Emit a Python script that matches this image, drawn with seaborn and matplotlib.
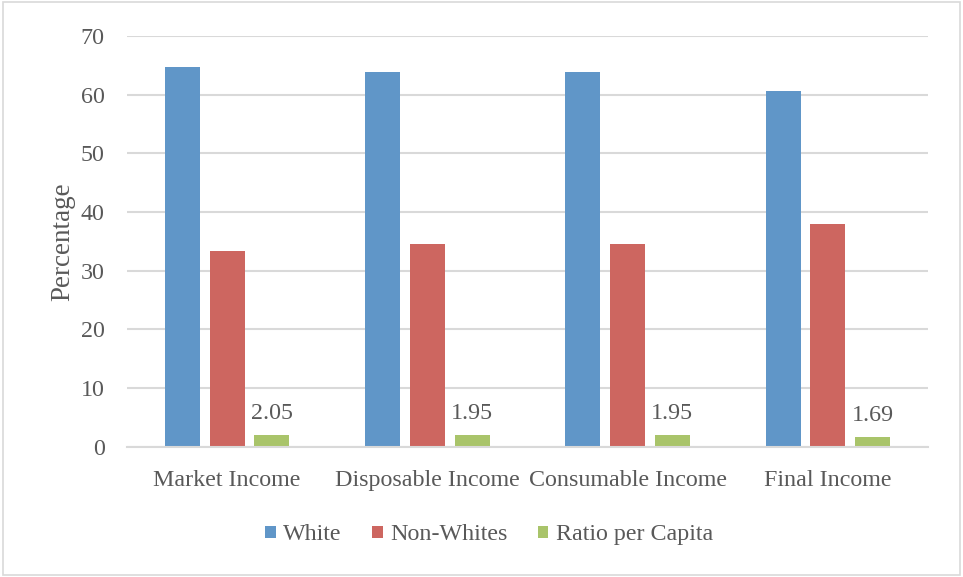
import matplotlib
matplotlib.use("Agg")
import matplotlib.pyplot as plt
import seaborn as sns
import pandas as pd
from matplotlib.patches import Rectangle

categories = ["Market Income", "Disposable Income", "Consumable Income", "Final Income"]
white = [64.8, 63.8, 63.8, 60.6]
non_whites = [33.4, 34.5, 34.5, 37.9]
ratio_per_capita = [2.05, 1.95, 1.95, 1.69]
series_names = ["White", "Non-Whites", "Ratio per Capita"]
yticks = [0, 10, 20, 30, 40, 50, 60, 70]

rows = []
for name, vals in zip(series_names, [white, non_whites, ratio_per_capita]):
    for c, v in zip(categories, vals):
        rows.append({"Category": c, "Series": name, "Value": v})
df = pd.DataFrame(rows)

sns.set_theme(style="white")
plt.rcParams["font.family"] = ["Liberation Serif", "DejaVu Serif"]
txt = "#595959"
grid = "#D9D9D9"
palette = {"White": "#6096C8", "Non-Whites": "#CD6660", "Ratio per Capita": "#A9C46A"}
fs = 17.3

fig = plt.figure(figsize=(9.63, 5.77), dpi=100)
ax = fig.add_axes([0.1319, 0.2258, 0.8318, 0.7118])

sns.barplot(data=df, x="Category", y="Value", hue="Series", hue_order=series_names,
            order=categories, palette=palette, width=0.67, gap=0.22,
            saturation=1, ax=ax, legend=True, edgecolor="none")

ax.set_ylim(0, 70)
ax.set_yticks(yticks)
ax.set_xlim(-0.5, len(categories) - 0.5)
ax.yaxis.grid(True, color=grid, linewidth=1.5)
ax.set_axisbelow(True)
for s in ["top", "right", "left"]:
    ax.spines[s].set_visible(False)
ax.spines["bottom"].set_color(grid)
ax.spines["bottom"].set_linewidth(1.5)
ax.tick_params(axis="both", length=0, labelsize=fs, colors=txt)
ax.tick_params(axis="x", pad=17)
ax.tick_params(axis="y", pad=16)
ax.set_xlabel("")
ax.set_ylabel("Percentage", fontsize=19.5, color=txt, labelpad=4)

green = ax.containers[2]
ax.bar_label(green, fmt="%.2f", padding=8, fontsize=fs, color=txt)

ax.legend_.remove()
handles, labels = ax.get_legend_handles_labels()
fig.legend(handles, labels, loc="center", bbox_to_anchor=(0.508, 0.073), ncol=3,
           frameon=False, fontsize=fs, labelcolor=txt, handlelength=0.42,
           handleheight=0.42, handletextpad=0.3, columnspacing=1.3)

fig.patches.append(Rectangle((0.003, 0.003), 0.994, 0.994, transform=fig.transFigure,
                             fill=False, edgecolor="#D9D9D9", linewidth=1.2))

fig.savefig("out.png", dpi=100)
